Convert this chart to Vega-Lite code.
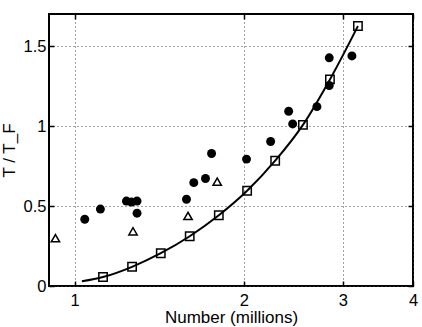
{
  "$schema": "https://vega.github.io/schema/vega-lite/v6.json",
  "width": 364,
  "height": 272,
  "autosize": {"type": "none"},
  "padding": {"left": 49, "top": 14, "right": 9, "bottom": 41},
  "background": "white",
  "config": {
    "font": "Liberation Sans",
    "view": {"stroke": "black", "strokeWidth": 2},
    "axis": {
      "labelFont": "Liberation Sans",
      "titleFont": "Liberation Sans",
      "labelFontSize": 16.5,
      "titleFontSize": 17,
      "titleFontWeight": "normal",
      "labelColor": "black",
      "titleColor": "black",
      "tickColor": "black",
      "tickWidth": 1.5,
      "domain": false,
      "labelOverlap": false,
      "labelFlush": false,
      "labelBound": false
    }
  },
  "data": {
    "values": [
      {"x": 1.042, "y": 0.417, "series": "circle"},
      {"x": 1.111, "y": 0.481, "series": "circle"},
      {"x": 1.236, "y": 0.531, "series": "circle"},
      {"x": 1.262, "y": 0.525, "series": "circle"},
      {"x": 1.291, "y": 0.531, "series": "circle"},
      {"x": 1.291, "y": 0.455, "series": "circle"},
      {"x": 1.581, "y": 0.542, "series": "circle"},
      {"x": 1.629, "y": 0.646, "series": "circle"},
      {"x": 1.709, "y": 0.672, "series": "circle"},
      {"x": 1.752, "y": 0.828, "series": "circle"},
      {"x": 2.022, "y": 0.793, "series": "circle"},
      {"x": 2.232, "y": 0.903, "series": "circle"},
      {"x": 2.403, "y": 1.092, "series": "circle"},
      {"x": 2.443, "y": 1.013, "series": "circle"},
      {"x": 2.698, "y": 1.121, "series": "circle"},
      {"x": 2.838, "y": 1.426, "series": "circle"},
      {"x": 2.838, "y": 1.253, "series": "circle"},
      {"x": 3.114, "y": 1.438, "series": "circle"},
      {"x": 0.924, "y": 0.299, "series": "triangle"},
      {"x": 1.270, "y": 0.342, "series": "triangle"},
      {"x": 1.591, "y": 0.438, "series": "triangle"},
      {"x": 1.793, "y": 0.652, "series": "triangle"},
      {"x": 1.123, "y": 0.056, "series": "square"},
      {"x": 1.265, "y": 0.120, "series": "square"},
      {"x": 1.423, "y": 0.205, "series": "square"},
      {"x": 1.602, "y": 0.311, "series": "square"},
      {"x": 1.805, "y": 0.442, "series": "square"},
      {"x": 2.027, "y": 0.595, "series": "square"},
      {"x": 2.274, "y": 0.783, "series": "square"},
      {"x": 2.548, "y": 1.007, "series": "square"},
      {"x": 2.846, "y": 1.291, "series": "square"},
      {"x": 3.192, "y": 1.625, "series": "square"},
      {"x": 1.030, "y": 0.029, "series": "fit"},
      {"x": 1.123, "y": 0.056, "series": "fit"},
      {"x": 1.265, "y": 0.120, "series": "fit"},
      {"x": 1.423, "y": 0.205, "series": "fit"},
      {"x": 1.602, "y": 0.311, "series": "fit"},
      {"x": 1.805, "y": 0.442, "series": "fit"},
      {"x": 2.027, "y": 0.595, "series": "fit"},
      {"x": 2.274, "y": 0.783, "series": "fit"},
      {"x": 2.548, "y": 1.007, "series": "fit"},
      {"x": 2.846, "y": 1.291, "series": "fit"},
      {"x": 3.192, "y": 1.625, "series": "fit"}
    ]
  },
  "layer": [
    {
      "transform": [{"filter": "datum.series === 'fit'"}],
      "mark": {"type": "line", "color": "black", "strokeWidth": 2, "interpolate": "monotone"},
      "encoding": {
        "x": {
          "field": "x", "type": "quantitative",
          "scale": {"type": "log", "domain": [0.9, 4], "nice": false},
          "axis": {
            "orient": "bottom", "values": [1, 2, 3, 4], "labelExpr": "datum.value",
            "title": "Number (millions)", "titlePadding": 1,
            "tickSize": -5, "labelPadding": 11,
            "grid": true, "gridColor": "#444", "gridDash": [1, 3], "gridWidth": 1
          }
        },
        "y": {
          "field": "y", "type": "quantitative",
          "scale": {"domain": [0, 1.7], "nice": false, "zero": false},
          "axis": {
            "orient": "left", "values": [0, 0.5, 1, 1.5], "labelExpr": "datum.value",
            "title": "T / T_F", "titlePadding": 5,
            "tickSize": -5, "labelPadding": 8,
            "grid": true, "gridColor": "#444", "gridDash": [1, 3], "gridWidth": 1
          }
        }
      }
    },
    {
      "transform": [{"filter": "datum.series === 'circle'"}],
      "mark": {"type": "point", "shape": "circle", "filled": true, "color": "black", "opacity": 1, "size": 80},
      "encoding": {
        "x": {"field": "x", "type": "quantitative", "axis": null},
        "y": {"field": "y", "type": "quantitative", "axis": null}
      }
    },
    {
      "transform": [{"filter": "datum.series === 'triangle'"}],
      "mark": {"type": "point", "shape": "triangle-up", "filled": false, "color": "black", "opacity": 1, "size": 70, "strokeWidth": 1.5},
      "encoding": {
        "x": {"field": "x", "type": "quantitative", "axis": null},
        "y": {"field": "y", "type": "quantitative", "axis": null}
      }
    },
    {
      "transform": [{"filter": "datum.series === 'square'"}],
      "mark": {"type": "point", "shape": "square", "filled": false, "color": "black", "opacity": 1, "size": 70, "strokeWidth": 1.5},
      "encoding": {
        "x": {"field": "x", "type": "quantitative", "axis": null},
        "y": {"field": "y", "type": "quantitative", "axis": null}
      }
    },
    {
      "transform": [{"filter": "datum.series === 'square'"}],
      "mark": {"type": "point", "opacity": 0},
      "encoding": {
        "x": {"field": "x", "type": "quantitative", "axis": {"orient": "top", "values": [1, 2, 3, 4], "labels": false, "title": null, "tickSize": -5, "grid": false}},
        "y": {"field": "y", "type": "quantitative", "axis": {"orient": "right", "values": [0, 0.5, 1, 1.5], "labels": false, "title": null, "tickSize": -5, "grid": false}}
      }
    }
  ],
  "resolve": {"axis": {"x": "independent", "y": "independent"}}
}
